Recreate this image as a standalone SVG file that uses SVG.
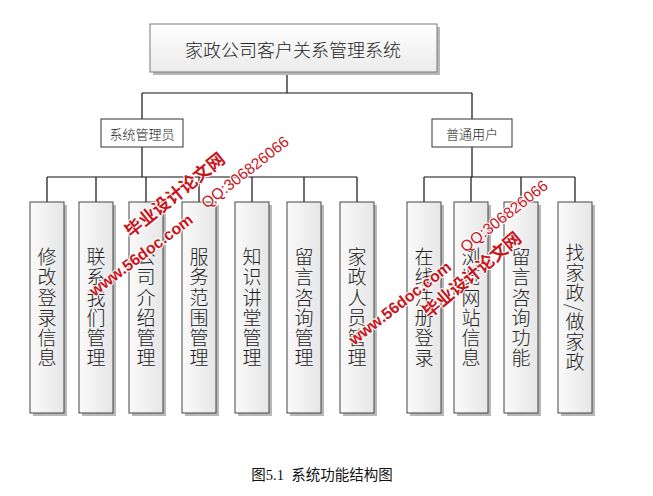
<svg xmlns="http://www.w3.org/2000/svg" width="653" height="496" viewBox="0 0 653 496">
<style>
.zh{font-family:"Noto Sans CJK SC","Noto Sans",sans-serif;fill:#222;font-weight:300}
.leaf{fill:url(#gLeaf);stroke:#444;stroke-width:1}
.shadow{fill:#b8b8b8}
.mid{fill:#fff;stroke:#333;stroke-width:1}
.conn{stroke:#111;stroke-width:1.2;fill:none}
.vt{writing-mode:vertical-rl;font-size:19px;letter-spacing:1.2px}
.wm{fill:#c8161d;stroke:#fff;stroke-width:2;paint-order:stroke;stroke-linejoin:round}
</style>
<defs>
<linearGradient id="gLeaf" x1="0" y1="0" x2="1" y2="0">
<stop offset="0" stop-color="#fafafa"/><stop offset="1" stop-color="#e6e6e6"/>
</linearGradient>
<linearGradient id="gTop" x1="0" y1="0" x2="0" y2="1">
<stop offset="0" stop-color="#ffffff"/><stop offset="1" stop-color="#ebebeb"/>
</linearGradient>
</defs>
<rect width="653" height="496" fill="#fff"/>

<g id="connectors" class="conn">
<path d="M287 72V93M142 93H472M142 93V119M472 93V119"/>
<path d="M142 147V177M47 177H357M47 177V202M96 177V202M146 177V202M199 177V202M252 177V202M304 177V202M357 177V202"/>
<path d="M472 147V177M424 177H575M424 177V202M471 177V202M521 177V202M575 177V202"/>
</g>

<g id="root">
<rect x="153" y="27" width="287" height="48" class="shadow"/>
<rect x="150" y="24" width="287" height="48" fill="url(#gTop)" stroke="#7a7a7a"/>
<text x="293" y="49" class="zh" font-size="18" text-anchor="middle" dominant-baseline="central" fill="#333">家政公司客户关系管理系统</text>
</g>
<g id="admin">
<rect x="101" y="119" width="82" height="28" class="mid"/>
<text x="142" y="133" class="zh" font-size="13" text-anchor="middle" dominant-baseline="central">系统管理员</text>
</g>
<g id="user">
<rect x="432" y="119" width="80" height="28" class="mid"/>
<text x="472" y="133" class="zh" font-size="13" text-anchor="middle" dominant-baseline="central">普通用户</text>
</g>

<g id="n1"><rect x="33" y="205" width="34" height="211" class="shadow"/><rect x="30" y="202" width="34" height="211" class="leaf"/><text x="47" y="308" class="zh vt" text-anchor="middle">修改登录信息</text></g>
<g id="n2"><rect x="82" y="205" width="34" height="211" class="shadow"/><rect x="79" y="202" width="34" height="211" class="leaf"/><text x="96" y="308" class="zh vt" text-anchor="middle">联系我们管理</text></g>
<g id="n3"><rect x="132" y="205" width="34" height="211" class="shadow"/><rect x="129" y="202" width="34" height="211" class="leaf"/><text x="146" y="308" class="zh vt" text-anchor="middle">公司介绍管理</text></g>
<g id="n4"><rect x="185" y="205" width="34" height="211" class="shadow"/><rect x="182" y="202" width="34" height="211" class="leaf"/><text x="199" y="308" class="zh vt" text-anchor="middle">服务范围管理</text></g>
<g id="n5"><rect x="238" y="205" width="34" height="211" class="shadow"/><rect x="235" y="202" width="34" height="211" class="leaf"/><text x="252" y="308" class="zh vt" text-anchor="middle">知识讲堂管理</text></g>
<g id="n6"><rect x="290" y="205" width="34" height="211" class="shadow"/><rect x="287" y="202" width="34" height="211" class="leaf"/><text x="304" y="308" class="zh vt" text-anchor="middle">留言咨询管理</text></g>
<g id="n7"><rect x="343" y="205" width="34" height="211" class="shadow"/><rect x="340" y="202" width="34" height="211" class="leaf"/><text x="357" y="308" class="zh vt" text-anchor="middle">家政人员管理</text></g>
<g id="n8"><rect x="410" y="205" width="34" height="211" class="shadow"/><rect x="407" y="202" width="34" height="211" class="leaf"/><text x="424" y="308" class="zh vt" text-anchor="middle">在线注册登录</text></g>
<g id="n9"><rect x="457" y="205" width="34" height="211" class="shadow"/><rect x="454" y="202" width="34" height="211" class="leaf"/><text x="471" y="308" class="zh vt" text-anchor="middle">浏览网站信息</text></g>
<g id="n10"><rect x="507" y="205" width="34" height="211" class="shadow"/><rect x="504" y="202" width="34" height="211" class="leaf"/><text x="521" y="308" class="zh vt" text-anchor="middle">留言咨询功能</text></g>
<g id="n11"><rect x="561" y="205" width="34" height="211" class="shadow"/><rect x="558" y="202" width="34" height="211" class="leaf"/><text x="575" y="308" class="zh vt" text-anchor="middle">找家政/做家政</text></g>

<g id="watermarks">
<text transform="translate(174,194) rotate(-39)" class="wm" font-family="Noto Sans CJK SC,sans-serif" font-weight="bold" font-size="17.5" text-anchor="middle" dominant-baseline="central">毕业设计论文网</text>
<text transform="translate(141,255) rotate(-37)" class="wm" font-family="Liberation Sans,sans-serif" font-weight="bold" font-size="16" text-anchor="middle" dominant-baseline="central">www.56doc.com</text>
<text transform="translate(245,172) rotate(-38)" class="wm" font-family="Liberation Sans,sans-serif" font-size="15.5" text-anchor="middle" dominant-baseline="central">QQ:306826066</text>
<text transform="translate(471,274) rotate(-40)" class="wm" font-family="Noto Sans CJK SC,sans-serif" font-weight="bold" font-size="17.5" text-anchor="middle" dominant-baseline="central">毕业设计论文网</text>
<text transform="translate(400,303) rotate(-38)" class="wm" font-family="Liberation Sans,sans-serif" font-weight="bold" font-size="16" text-anchor="middle" dominant-baseline="central">www.56doc.com</text>
<text transform="translate(504,216) rotate(-38)" class="wm" font-family="Liberation Sans,sans-serif" font-size="15.5" text-anchor="middle" dominant-baseline="central">QQ:306826066</text>
</g>

<text x="322" y="475" font-family="Liberation Serif,Noto Sans CJK SC,serif" font-size="14.5" fill="#111" text-anchor="middle" dominant-baseline="central" xml:space="preserve">图5.1  系统功能结构图</text>
</svg>
